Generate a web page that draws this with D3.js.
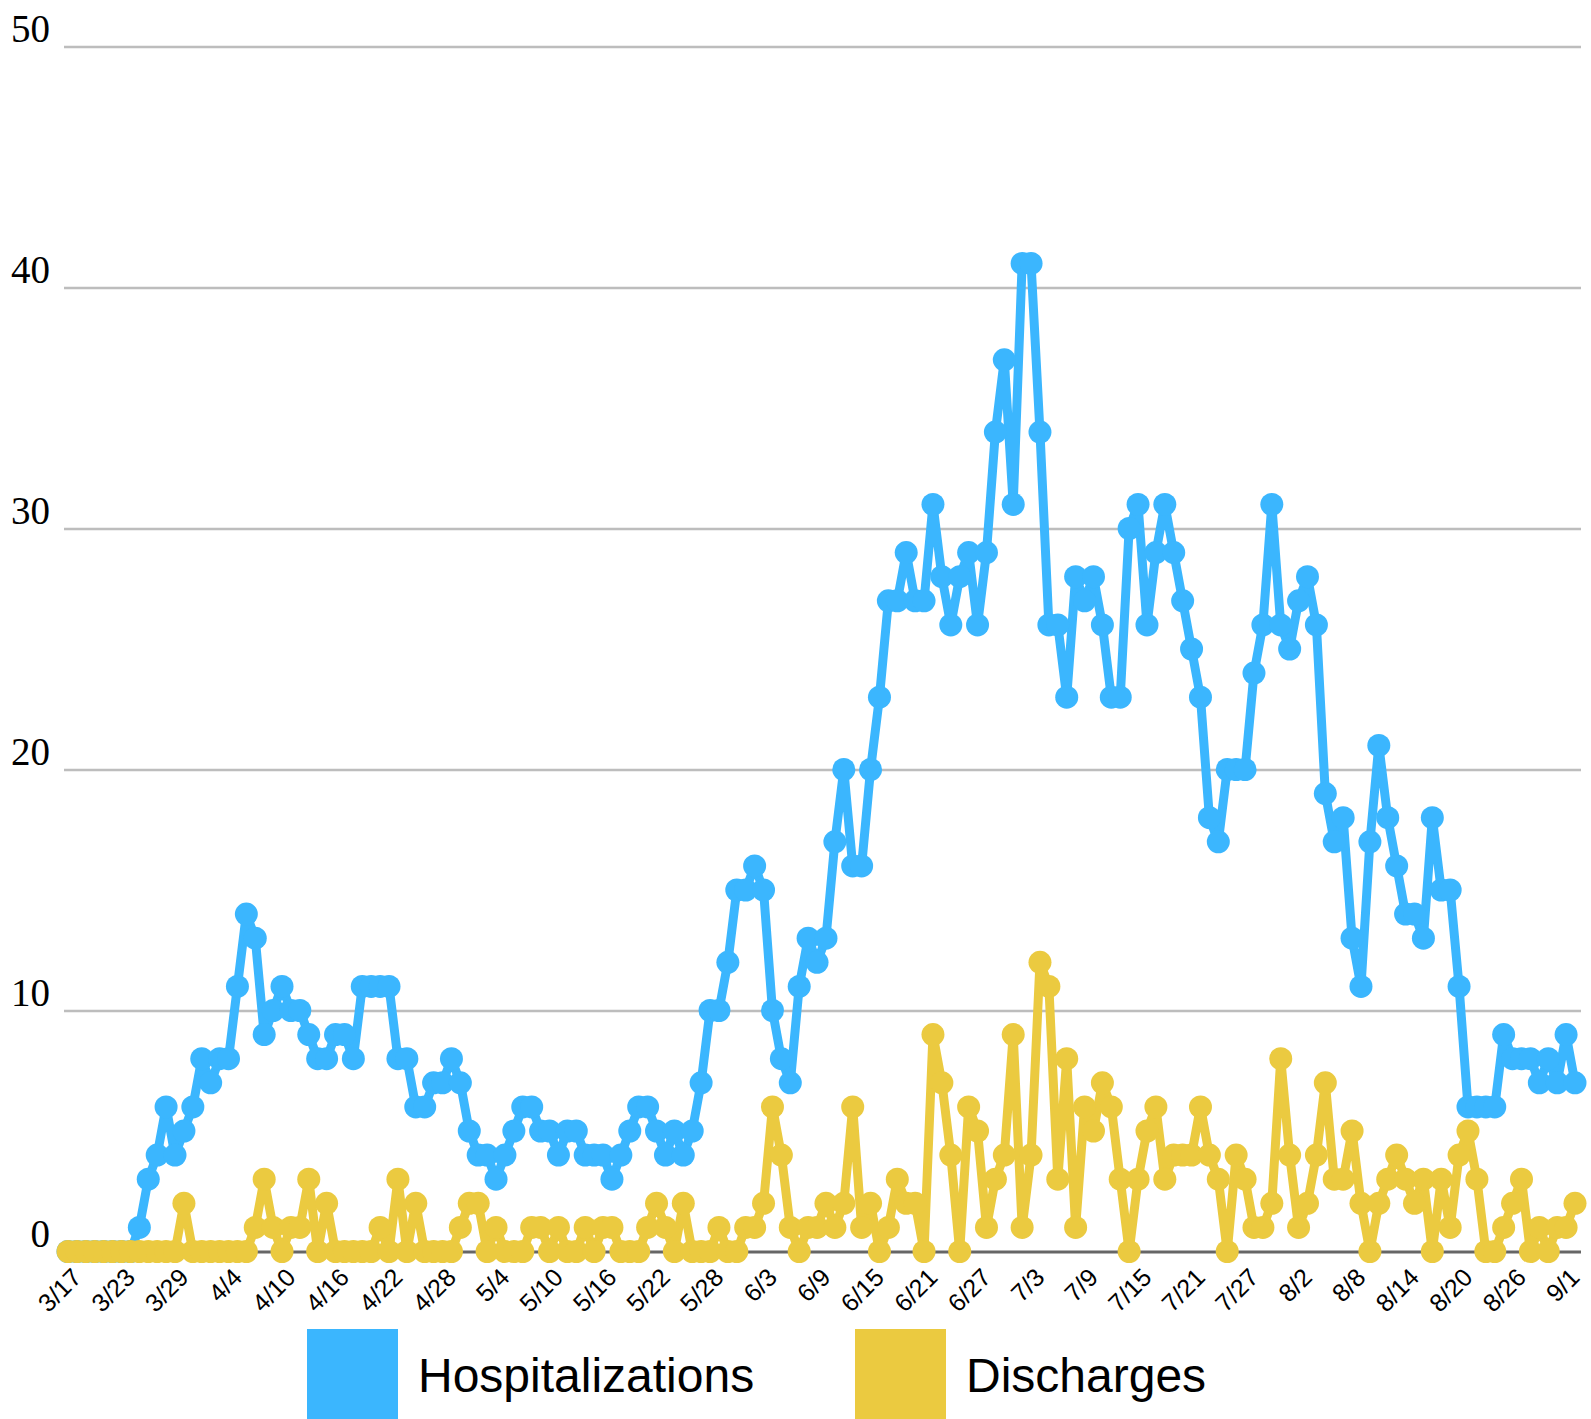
<!DOCTYPE html>
<html>
<head>
<meta charset="utf-8">
<script src="https://cdn.jsdelivr.net/npm/d3@7"></script>
<style>
  html, body { margin: 0; padding: 0; background: #fff; }
  svg { display: block; }
</style>
</head>
<body>
<div id="chart"></div>
<script>
// daily values, 3/17 onwards
const hospitalizations = [
  0, 0, 0, 0, 0, 0, 0, 0, 1, 3,
  4, 6, 4, 5, 6, 8, 7, 8, 8, 11,
  14, 13, 9, 10, 11, 10, 10, 9, 8, 8,
  9, 9, 8, 11, 11, 11, 11, 8, 8, 6,
  6, 7, 7, 8, 7, 5, 4, 4, 3, 4,
  5, 6, 6, 5, 5, 4, 5, 5, 4, 4,
  4, 3, 4, 5, 6, 6, 5, 4, 5, 4,
  5, 7, 10, 10, 12, 15, 15, 16, 15, 10,
  8, 7, 11, 13, 12, 13, 17, 20, 16, 16,
  20, 23, 27, 27, 29, 27, 27, 31, 28, 26,
  28, 29, 26, 29, 34, 37, 31, 41, 41, 34,
  26, 26, 23, 28, 27, 28, 26, 23, 23, 30,
  31, 26, 29, 31, 29, 27, 25, 23, 18, 17,
  20, 20, 20, 24, 26, 31, 26, 25, 27, 28,
  26, 19, 17, 18, 13, 11, 17, 21, 18, 16,
  14, 14, 13, 18, 15, 15, 11, 6, 6, 6,
  6, 9, 8, 8, 8, 7, 8, 7, 9, 7
];

const discharges = [
  0, 0, 0, 0, 0, 0, 0, 0, 0, 0,
  0, 0, 0, 2, 0, 0, 0, 0, 0, 0,
  0, 1, 3, 1, 0, 1, 1, 3, 0, 2,
  0, 0, 0, 0, 0, 1, 0, 3, 0, 2,
  0, 0, 0, 0, 1, 2, 2, 0, 1, 0,
  0, 0, 1, 1, 0, 1, 0, 0, 1, 0,
  1, 1, 0, 0, 0, 1, 2, 1, 0, 2,
  0, 0, 0, 1, 0, 0, 1, 1, 2, 6,
  4, 1, 0, 1, 1, 2, 1, 2, 6, 1,
  2, 0, 1, 3, 2, 2, 0, 9, 7, 4,
  0, 6, 5, 1, 3, 4, 9, 1, 4, 12,
  11, 3, 8, 1, 6, 5, 7, 6, 3, 0,
  3, 5, 6, 3, 4, 4, 4, 6, 4, 3,
  0, 4, 3, 1, 1, 2, 8, 4, 1, 2,
  4, 7, 3, 3, 5, 2, 0, 2, 3, 4,
  3, 2, 3, 0, 3, 1, 4, 5, 3, 0,
  0, 1, 2, 3, 0, 1, 0, 1, 1, 2
];

const tickLabels = [
  '3/17', '3/23', '3/29', '4/4', '4/10', '4/16', '4/22', '4/28',
  '5/4', '5/10', '5/16', '5/22', '5/28', '6/3', '6/9', '6/15',
  '6/21', '6/27', '7/3', '7/9', '7/15', '7/21', '7/27', '8/2',
  '8/8', '8/14', '8/20', '8/26', '9/1'
];
const tickEvery = 6;

const yTicks = [0, 10, 20, 30, 40, 50];

const seriesNames = ['Hospitalizations', 'Discharges'];
const seriesValues = [hospitalizations, discharges];

const colors = ['#3bb6fe', '#ebca40'];

const width = 1591;
const height = 1419;

const svg = d3
  .select('#chart')
  .append('svg')
  .attr('width', width)
  .attr('height', height);

const x = d3
  .scaleLinear()
  .domain([0, hospitalizations.length - 1])
  .range([68, 1575]);

const y = d3.scaleLinear().domain([0, 50]).range([1251.5, 46.5]);

// gridlines + y labels
const yAxis = svg
  .append('g')
  .attr('transform', 'translate(64,0)')
  .call(
    d3
      .axisLeft(y)
      .tickValues(yTicks)
      .tickSize(-(1581 - 64))
      .tickPadding(14)
      .tickFormat(d3.format('d'))
  );

yAxis.select('.domain').remove();
yAxis
  .selectAll('.tick line')
  .attr('stroke', d => (d === 0 ? '#666' : '#bdbdbd'))
  .attr('stroke-width', d => (d === 0 ? 3 : 2.5));
yAxis
  .selectAll('.tick text')
  .attr('dy', -5)
  .attr('fill', '#000')
  .style('font-family', '"Liberation Serif", "DejaVu Serif", serif')
  .style('font-size', '39px');

// x labels, rotated
svg
  .append('g')
  .selectAll('text')
  .data(tickLabels)
  .join('text')
  .attr(
    'transform',
    (d, i) => `translate(${x(i * tickEvery) + 15},1279) rotate(-45)`
  )
  .attr('text-anchor', 'end')
  .style('font-family', '"Liberation Sans", Arial, sans-serif')
  .style('font-size', '25px')
  .attr('fill', '#000')
  .text(d => d);

// series
const line = d3
  .line()
  .x((d, i) => x(i))
  .y(d => y(d));

seriesValues.forEach((values, k) => {
  const g = svg.append('g');
  g.append('path')
    .attr('d', line(values))
    .attr('fill', 'none')
    .attr('stroke', colors[k])
    .attr('stroke-width', 9)
    .attr('stroke-linejoin', 'round');
  g.selectAll('circle')
    .data(values)
    .join('circle')
    .attr('cx', (d, i) => x(i))
    .attr('cy', d => y(d))
    .attr('r', 11.5)
    .attr('fill', colors[k]);
});

// legend
const legendX = [307, 855];
const legend = svg
  .append('g')
  .selectAll('g')
  .data(seriesNames)
  .join('g')
  .attr('transform', (d, i) => `translate(${legendX[i]},1329)`);

legend
  .append('rect')
  .attr('width', 91)
  .attr('height', 91)
  .attr('fill', (d, i) => colors[i]);

legend
  .append('text')
  .attr('x', 111)
  .attr('y', 63)
  .style('font-family', '"Liberation Sans", Arial, sans-serif')
  .style('font-size', '48px')
  .attr('fill', '#000')
  .text(d => d);
</script>
</body>
</html>
